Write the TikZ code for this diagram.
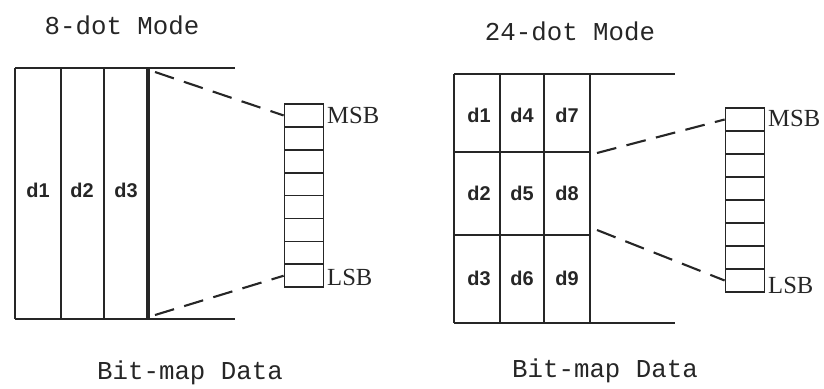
\documentclass[tikz,border=0pt]{standalone}
\usepackage{fontspec}
\setmainfont{Liberation Serif}
\setsansfont{Liberation Sans}
\setmonofont{Liberation Mono}
\colorlet{ink}{black!85}

\begin{document}
\begin{tikzpicture}[x=0.03cm, y=-0.03cm,
  g/.style={draw=ink, line width=1.8pt},
  gg/.style={draw=ink, line width=2.6pt},
  cell/.style={draw=ink, line width=1.5pt, minimum width=1.17cm, minimum height=0.687cm, inner sep=0pt},
  dl/.style={font=\sffamily\bfseries\fontsize{17}{17}\selectfont, text=ink, inner sep=0pt},
  ttl/.style={font=\ttfamily\fontsize{22}{24}\selectfont, text=ink, inner sep=0pt},
  bit/.style={font=\rmfamily\fontsize{21}{21}\selectfont, text=ink, anchor=west, inner sep=0pt},
  dsh/.style={draw=ink, line width=1.8pt, dash pattern=on 17pt off 9pt}
]
\useasboundingbox (0,0) rectangle (824,388);

% --- 8-dot mode ---
\node[ttl] (t8) at (122,25) {8-dot Mode};
\draw[g] (15,68) -- (235,68);
\draw[g] (15,319) -- (235,319);
\draw[g] (15,68) -- (15,319);
\draw[g] (61,68) -- (61,319);
\draw[g] (104,68) -- (104,319);
\draw[gg] (148,68) -- (148,319);
\node[dl] (p1) at (38,190) {d1};
\node[dl] (p2) at (82,190) {d2};
\node[dl] (p3) at (126,190) {d3};
\coordinate (a) at (155,72);
\coordinate (b) at (155,315);

% register, MSB on top
\foreach \i in {1,...,8}
  \node[cell] (r\i) at (304,{104+22.9*(\i-0.5)}) {};
\node[bit] (m8) at (327,115) {MSB};
\node[bit] (l8) at (327,277) {LSB};
\draw[dsh] (a) -- (r1.west);
\draw[dsh] (b) -- (r8.west);
\node[ttl] (b8) at (190,373) {Bit-map Data};

% --- 24-dot mode ---
\node[ttl] (t24) at (570,31) {24-dot Mode};
\draw[g] (454,74) -- (675,74);
\draw[g] (454,323) -- (675,323);
\draw[g] (454,152) -- (590,152);
\draw[g] (454,235) -- (590,235);
\draw[g] (454,74) -- (454,323);
\draw[g] (500,74) -- (500,323);
\draw[g] (544,74) -- (544,323);
\draw[g] (590,74) -- (590,323);
\node[dl] (q1) at (479,115) {d1};
\node[dl] (q4) at (522,115) {d4};
\node[dl] (q7) at (567,115) {d7};
\node[dl] (q2) at (479,193) {d2};
\node[dl] (q5) at (522,193) {d5};
\node[dl] (q8) at (567,193) {d8};
\node[dl] (q3) at (479,278) {d3};
\node[dl] (q6) at (522,278) {d6};
\node[dl] (q9) at (567,278) {d9};
\coordinate (c) at (597,153);
\coordinate (d) at (597,230);

% register, MSB on top
\foreach \i in {1,...,8}
  \node[cell] (s\i) at (745,{108+23*(\i-0.5)}) {};
\node[bit] (m24) at (768,118) {MSB};
\node[bit] (l24) at (768,285) {LSB};
\draw[dsh] (c) -- (s1.west);
\draw[dsh] (d) -- (s8.west);
\node[ttl] (b24) at (605,371) {Bit-map Data};

\end{tikzpicture}
\end{document}
